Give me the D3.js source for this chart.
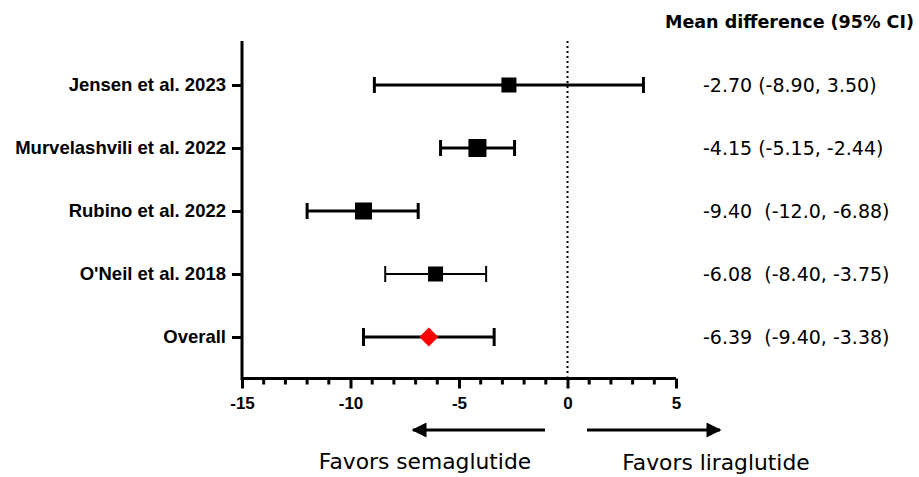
<!DOCTYPE html>
<html>
<head>
<meta charset="utf-8">
<script src="https://cdn.jsdelivr.net/npm/d3@7"></script>
<style>
  body { margin: 0; background: #fff; }
  svg { display: block; }
  text { white-space: pre; }
</style>
</head>
<body>
<div id="chart"></div>
<script>
// study rows, top to bottom
const studies = ["Jensen et al. 2023", "Murvelashvili et al. 2022", "Rubino et al. 2022", "O'Neil et al. 2018", "Overall"];
const means = [-2.70, -4.15, -9.40, -6.08, -6.39];
const lower = [-8.90, -5.85, -12.0, -8.40, -9.40];
const upper = [3.50, -2.44, -6.88, -3.75, -3.38];
const ciLabels = ["-2.70 (-8.90, 3.50)", "-4.15 (-5.15, -2.44)", "-9.40  (-12.0, -6.88)", "-6.08  (-8.40, -3.75)", "-6.39  (-9.40, -3.38)"];
const xTicks = [-15, -10, -5, 0, 5];

const width = 919, height = 477;
const margin = {top: 41, left: 242, right: 243, bottom: 99};

const svg = d3.select("#chart").append("svg")
  .attr("width", width)
  .attr("height", height);

const xScale = d3.scaleLinear().domain([-15, 5]).range([margin.left, width - margin.right]);
const yScale = d3.scalePoint().domain(studies).range([85, 337]);
const axisY = height - margin.bottom + 0.5;

const boldFont = "'Liberation Sans', Arial, sans-serif";
const plainFont = "'DejaVu Sans', Verdana, sans-serif";

// x axis - major ticks
const gx = svg.append("g")
  .attr("transform", "translate(0," + axisY + ")")
  .call(d3.axisBottom(xScale).tickValues(xTicks).tickSize(10).tickPadding(8).tickFormat(function(d) { return String(d); }));
gx.select(".domain").attr("stroke-width", 3).attr("d", "M" + xScale(-15) + ",0H" + xScale(5));
gx.selectAll(".tick line").attr("stroke-width", 3);
gx.selectAll(".tick text")
  .attr("font-family", boldFont).attr("font-weight", "bold").attr("font-size", 17).attr("fill", "#000");

// minor ticks every 1 unit
svg.append("g").selectAll("line")
  .data(d3.range(-15, 6).filter(function(d) { return d % 5 !== 0; }))
  .enter().append("line")
  .attr("x1", function(d) { return xScale(d); })
  .attr("x2", function(d) { return xScale(d); })
  .attr("y1", axisY).attr("y2", axisY + 6)
  .attr("stroke", "#000").attr("stroke-width", 3);

// y axis
const gy = svg.append("g")
  .attr("transform", "translate(" + margin.left + ",0)")
  .call(d3.axisLeft(yScale).tickSize(10).tickPadding(6));
gy.select(".domain").attr("stroke-width", 3).attr("d", "M0," + margin.top + "V" + (axisY + 1.5));
gy.selectAll(".tick line").attr("stroke-width", 3);
gy.selectAll(".tick text")
  .attr("font-family", boldFont).attr("font-weight", "bold").attr("font-size", 18.5).attr("fill", "#000");

// line of no effect
svg.append("line")
  .attr("x1", xScale(0)).attr("x2", xScale(0))
  .attr("y1", margin.top).attr("y2", axisY - 2)
  .attr("stroke", "#000").attr("stroke-width", 2)
  .attr("stroke-dasharray", "2,3");

// error bars
const rows = studies.map(function(s, i) {
  return {name: s, mean: means[i], lo: lower[i], hi: upper[i], label: ciLabels[i]};
});
const thin = function(d) { return d.name === "O'Neil et al. 2018" ? 2 : 3; };
const capHalf = function(d) { return d.name === "Overall" ? 9 : 8; };

const bars = svg.append("g").selectAll("g").data(rows).enter().append("g");
bars.append("line")
  .attr("x1", function(d) { return xScale(d.lo); })
  .attr("x2", function(d) { return xScale(d.hi); })
  .attr("y1", function(d) { return yScale(d.name); })
  .attr("y2", function(d) { return yScale(d.name); })
  .attr("stroke", "#000").attr("stroke-width", thin);
["lo", "hi"].forEach(function(k) {
  bars.append("line")
    .attr("x1", function(d) { return xScale(d[k]); })
    .attr("x2", function(d) { return xScale(d[k]); })
    .attr("y1", function(d) { return yScale(d.name) - capHalf(d); })
    .attr("y2", function(d) { return yScale(d.name) + capHalf(d); })
    .attr("stroke", "#000").attr("stroke-width", thin);
});

// markers: squares for studies, red diamond for overall
const sizes = [15, 18, 17, 15];
bars.filter(function(d) { return d.name !== "Overall"; })
  .append("rect")
  .attr("x", function(d, i) { return xScale(d.mean) - sizes[i] / 2; })
  .attr("y", function(d, i) { return yScale(d.name) - sizes[i] / 2; })
  .attr("width", function(d, i) { return sizes[i]; })
  .attr("height", function(d, i) { return sizes[i]; })
  .attr("fill", "#000");
bars.filter(function(d) { return d.name === "Overall"; })
  .append("path")
  .attr("d", d3.symbol().type(d3.symbolSquare).size(180))
  .attr("transform", function(d) { return "translate(" + xScale(d.mean) + "," + yScale(d.name) + ") rotate(45)"; })
  .attr("fill", "#ff0000");

// right-hand estimates
svg.append("text")
  .attr("x", 665).attr("y", 28)
  .attr("font-family", plainFont).attr("font-weight", "bold").attr("font-size", 17)
  .attr("textLength", 249).attr("lengthAdjust", "spacingAndGlyphs")
  .text("Mean difference (95% CI)");
bars.append("text")
  .attr("x", 703)
  .attr("y", function(d) { return yScale(d.name); })
  .attr("dy", "0.36em")
  .attr("font-family", plainFont).attr("font-size", 19)
  .text(function(d) { return d.label; });

// direction arrows
const defs = svg.append("defs");
defs.append("marker")
  .attr("id", "head").attr("viewBox", "0 0 10 10")
  .attr("refX", 9).attr("refY", 5)
  .attr("markerWidth", 6).attr("markerHeight", 5).attr("markerUnits", "strokeWidth")
  .attr("orient", "auto")
  .append("path").attr("d", "M0,0L10,5L0,10Z").attr("fill", "#000");

svg.append("line")
  .attr("x1", 545).attr("x2", 413).attr("y1", 430).attr("y2", 430)
  .attr("stroke", "#000").attr("stroke-width", 3).attr("marker-end", "url(#head)");
svg.append("line")
  .attr("x1", 587).attr("x2", 720).attr("y1", 430).attr("y2", 430)
  .attr("stroke", "#000").attr("stroke-width", 3).attr("marker-end", "url(#head)");

svg.append("text")
  .attr("x", 425).attr("y", 469).attr("text-anchor", "middle")
  .attr("font-family", plainFont).attr("font-size", 21.8)
  .text("Favors semaglutide");
svg.append("text")
  .attr("x", 716).attr("y", 470).attr("text-anchor", "middle")
  .attr("font-family", plainFont).attr("font-size", 21.8)
  .text("Favors liraglutide");
</script>
</body>
</html>
